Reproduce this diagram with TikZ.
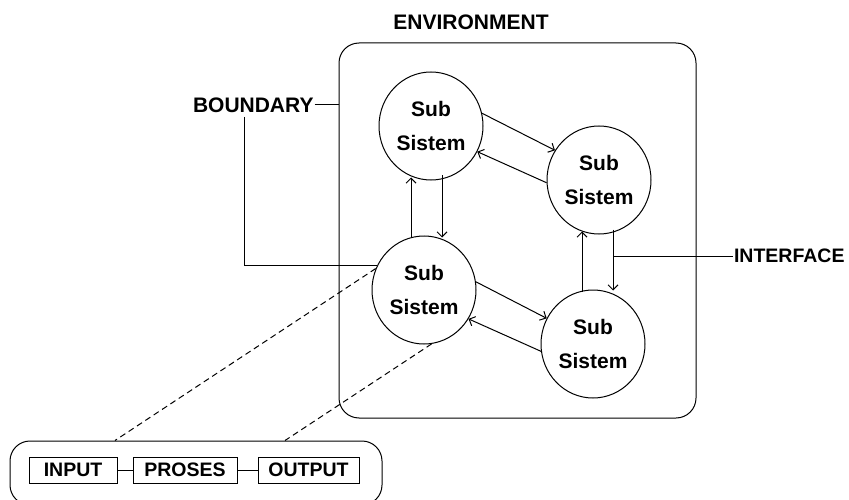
\documentclass[tikz,border=0pt]{standalone}
\usepackage{fontspec}
\setmainfont{Liberation Sans}
\usetikzlibrary{arrows.meta,shapes.geometric}
\begin{document}
\begin{tikzpicture}[x=1pt,y=-1pt,line width=1pt,
  lbl/.style={font=\fontsize{21}{25}\selectfont\bfseries, inner xsep=0.5pt, inner ysep=2pt},
  subsys/.style={draw, ellipse, minimum width=104pt, minimum height=108pt, inner sep=0pt, align=center,
    font=\fontsize{21}{34}\selectfont\bfseries},
  arr/.style={-{Straight Barb[length=5pt,width=10pt]}},
  ipo/.style={draw, rectangle, minimum height=26pt, inner sep=0pt, font=\fontsize{19.5}{24}\selectfont\bfseries},
  dsh/.style={dash pattern=on 6pt off 4pt}]
\clip (0,0) rectangle (849,500);
\fill[white] (0,0) rectangle (849,500);
% environment box
\node[draw, rectangle, rounded corners=20pt, minimum width=357pt, minimum height=375pt] (env) at (517.5,230.5) {};
\node[lbl] (envlbl) at (471,22) {ENVIRONMENT};
% subsystems
\node[subsys] (c1) at (431,126) {Sub\\Sistem};
\node[subsys] (c2) at (599,180) {Sub\\Sistem};
\node[subsys] (c3) at (424,290) {Sub\\Sistem};
\node[subsys] (c4) at (593,344) {Sub\\Sistem};
% arrows between subsystems
\draw[arr] (c1.14) -- (c2.146);
\draw[arr] (c2.183) -- (c1.-29);
\draw[arr] (c3.9) -- (c4.151);
\draw[arr] (c4.188) -- (c3.-33);
\draw[arr] ([yshift=-2pt]c3.north -| 411,0) -- ([yshift=3pt]c1.south -| 411,0);
\draw[arr] ([yshift=5pt]c1.south -| 442,0) -- ([yshift=-2pt]c3.north -| 442,0);
\draw[arr] ([yshift=-2pt]c4.north -| 582,0) -- ([yshift=3pt]c2.south -| 582,0);
\draw[arr] ([yshift=5pt]c2.south -| 613,0) -- ([yshift=-1pt]c4.north -| 613,0);
% boundary
\node[lbl, anchor=west] (bnd) at (192,105) {BOUNDARY};
\draw (bnd.east) -- (bnd.east -| env.west);
\draw (244,117) |- (c3.152);
% interface
\node[lbl, font=\fontsize{19.5}{24}\selectfont\bfseries, anchor=west] (intf) at (733,256) {INTERFACE};
\draw (intf.west) -- (intf.west -| 613,0);
% input-process-output
\node[draw, rectangle, rounded corners=20pt, minimum width=372pt, minimum height=64pt] (bot) at (196,473) {};
\node[ipo, minimum width=88pt] (in) at (73,470) {INPUT};
\node[ipo, minimum width=104pt] (pr) at (185,470) {PROSES};
\node[ipo, minimum width=101pt] (out) at (308.5,470) {OUTPUT};
\draw (in.east) -- (pr.west);
\draw (pr.east) -- (out.west);
% dashed links
\draw[dsh] (c3.156) -- (bot.north -| 115,0);
\draw[dsh] (c3.-82) -- (bot.north -| 285,0);
\end{tikzpicture}
\end{document}
